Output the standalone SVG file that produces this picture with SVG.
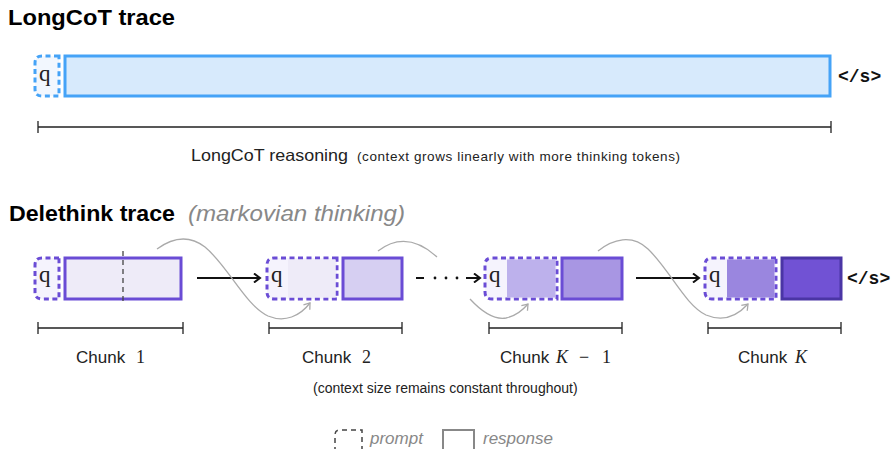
<svg xmlns="http://www.w3.org/2000/svg" width="894" height="449" viewBox="0 0 894 449">
<style>
.title{font-family:"Liberation Sans",Arial,sans-serif;font-weight:bold;font-size:22.5px;fill:#000}
.sub{font-family:"Liberation Sans",Arial,sans-serif;font-style:italic;font-size:22.5px;fill:#888}
.lbl{font-family:"Liberation Sans",Arial,sans-serif;font-size:17px;fill:#222}
.small{font-family:"Liberation Sans",Arial,sans-serif;font-size:13.5px;fill:#222}
.math{font-family:"Liberation Serif","DejaVu Serif",serif;font-size:18px;fill:#222}
.q{font-family:"Liberation Serif","DejaVu Serif",serif;font-size:23px;fill:#222}
.eos{font-family:"Liberation Mono","Courier New",monospace;font-weight:bold;font-size:18px;fill:#111}
.leg{font-family:"Liberation Sans",Arial,sans-serif;font-style:italic;font-size:17px;fill:#888}
.pq{fill:#f5f3fd;stroke:#6a4cd5;stroke-width:3;stroke-dasharray:5 3.5}
.resp{stroke:#6a4cd5;stroke-width:3}
.br{stroke:#222;stroke-width:1.3;fill:none}
.arr{stroke:#111;stroke-width:2;fill:none}
.curve{stroke:#aaa;stroke-width:1.3;fill:none}
</style>
<defs>
<marker id="ah" markerWidth="10" markerHeight="10" refX="8" refY="5" orient="auto" markerUnits="userSpaceOnUse">
<path d="M2,0.5 L8,5 L2,9.5" fill="none" stroke="#111" stroke-width="2"/>
</marker>
<marker id="gh" markerWidth="10" markerHeight="10" refX="7" refY="5" orient="auto" markerUnits="userSpaceOnUse">
<path d="M1.5,1 L7,5 L1.5,9" fill="none" stroke="#aaa" stroke-width="1.3"/>
</marker>
</defs>

<text class="title" x="8" y="25" textLength="167" lengthAdjust="spacingAndGlyphs">LongCoT trace</text>

<g id="longcot-prompt">
<path d="M59,56 H42 Q35,56 35,63 V89 Q35,96 42,96 H59 Z" fill="#f2f7fe" stroke="#45a3f7" stroke-width="3" stroke-dasharray="5 3.5"/>
<text class="q" x="39" y="81">q</text>
</g>
<g id="longcot-response">
<rect x="65" y="56" width="765" height="40" fill="#d7eafc" stroke="#45a3f7" stroke-width="3"/>
</g>
<text class="eos" x="838" y="82">&lt;/s&gt;</text>

<g id="longcot-bracket">
<path class="br" d="M38,127 H831 M38,121 V133 M831,121 V133"/>
</g>
<text class="lbl" x="191" y="161" style="font-size:16.5px" textLength="157" lengthAdjust="spacingAndGlyphs">LongCoT reasoning</text>
<text class="small" x="357" y="161" textLength="323" lengthAdjust="spacing">(context grows linearly with more thinking tokens)</text>

<text class="title" x="9" y="221" textLength="166" lengthAdjust="spacingAndGlyphs">Delethink trace</text>
<text class="sub" x="188" y="221" textLength="217" lengthAdjust="spacingAndGlyphs">(markovian thinking)</text>

<g id="connectors">
<line class="arr" x1="197" y1="278" x2="260" y2="278" marker-end="url(#ah)"/>
<line class="arr" x1="416" y1="278" x2="424" y2="278"/>
<circle cx="435" cy="278" r="1.4" fill="#111"/>
<circle cx="446" cy="278" r="1.4" fill="#111"/>
<circle cx="457" cy="278" r="1.4" fill="#111"/>
<line class="arr" x1="466" y1="278" x2="480" y2="278" marker-end="url(#ah)"/>
<line class="arr" x1="636" y1="278" x2="699" y2="278" marker-end="url(#ah)"/>
<path class="curve" d="M157,249 C172,238 188,234 205,247 C228,266 245,305 268,316 C285,323 300,316 310,303" marker-end="url(#gh)"/>
<path class="curve" d="M378,251 C395,238 414,236 437,257"/>
<path class="curve" d="M470,299 C482,312 494,320 506,318 C516,316 522,311 528,304" marker-end="url(#gh)"/>
<path class="curve" d="M598,251 C613,239 632,234 648,249 C670,270 685,305 706,315 C725,323 738,315 748,304" marker-end="url(#gh)"/>
</g>

<g id="chunk1">
<path class="pq" d="M59,258 H42 Q35,258 35,265 V292 Q35,299 42,299 H59 Z"/>
<text class="q" x="39" y="282">q</text>
<rect class="resp" x="65" y="258" width="116" height="41" fill="#eeebf8"/>
<line x1="123" y1="251" x2="123" y2="305" stroke="#444" stroke-width="1.3" stroke-dasharray="5 4"/>
<path class="br" d="M38,328 H183 M38,322 V334 M183,322 V334"/>
<text x="76" y="363"><tspan class="lbl">Chunk</tspan><tspan class="math" x="136">1</tspan></text>
</g>

<g id="chunk2">
<path class="pq" d="M337,258 H274 Q267,258 267,265 V292 Q267,299 274,299 H337 Z"/>
<rect x="288" y="259.5" width="47.5" height="38" fill="#eeebf8"/>
<text class="q" x="271" y="282">q</text>
<rect class="resp" x="343" y="258" width="59" height="41" fill="#d6cff2"/>
<path class="br" d="M269,328 H402 M269,322 V334 M402,322 V334"/>
<text x="302" y="363"><tspan class="lbl">Chunk</tspan><tspan class="math" x="362">2</tspan></text>
</g>

<g id="chunkK-1">
<path class="pq" d="M557,258 H492 Q485,258 485,265 V292 Q485,299 492,299 H557 Z"/>
<rect x="507" y="259.5" width="48.5" height="38" fill="#bdb1ec"/>
<text class="q" x="489" y="282">q</text>
<rect class="resp" x="562" y="258" width="60" height="41" fill="#a896e3"/>
<path class="br" d="M489,328 H622 M489,322 V334 M622,322 V334"/>
<text x="500" y="363"><tspan class="lbl">Chunk</tspan><tspan class="math" x="556" font-style="italic">K</tspan><tspan class="math" x="579">−</tspan><tspan class="math" x="602">1</tspan></text>
</g>

<g id="chunkK">
<path class="pq" d="M776,258 H712 Q705,258 705,265 V292 Q705,299 712,299 H776 Z"/>
<rect x="727" y="259.5" width="47.5" height="38" fill="#9a86df"/>
<text class="q" x="709" y="282">q</text>
<rect x="782" y="258" width="59" height="41" fill="#7152d4" stroke="#4a35a5" stroke-width="3"/>
<path class="br" d="M708,328 H841 M708,322 V334 M841,322 V334"/>
<text x="738" y="363"><tspan class="lbl">Chunk</tspan><tspan class="math" x="795" font-style="italic">K</tspan></text>
<text class="eos" x="847" y="284">&lt;/s&gt;</text>
</g>

<text class="small" x="313" y="393" style="font-size:14px">(context size remains constant throughout)</text>

<g id="legend">
<path d="M362,460 V430 H340 Q335,430 335,435 V460" fill="none" stroke="#444" stroke-width="1.5" stroke-dasharray="5 4"/>
<text class="leg" x="370" y="444">prompt</text>
<rect x="443" y="430" width="31" height="30" fill="none" stroke="#888" stroke-width="2"/>
<text class="leg" x="483" y="444">response</text>
</g>
</svg>
